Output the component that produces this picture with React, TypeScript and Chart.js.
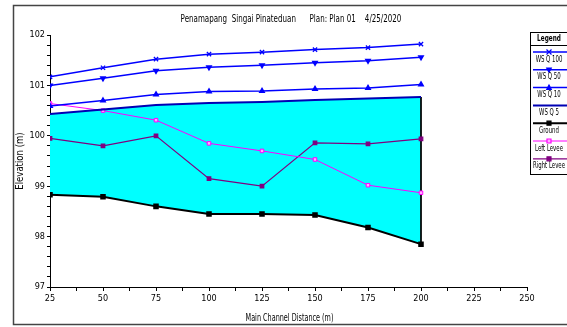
import React, { useEffect, useRef } from "react";
import { Chart, registerables } from "chart.js";

Chart.register(...registerables);

const distances = [25, 50, 75, 100, 125, 150, 175, 200];
const wsQ100 = [101.17, 101.35, 101.52, 101.62, 101.66, 101.71, 101.75, 101.82];
const wsQ50 = [101.0, 101.14, 101.29, 101.36, 101.4, 101.45, 101.49, 101.56];
const wsQ10 = [100.59, 100.7, 100.82, 100.88, 100.89, 100.93, 100.95, 101.02];
const wsQ5 = [100.43, 100.52, 100.61, 100.65, 100.67, 100.71, 100.74, 100.77];
const ground = [98.83, 98.79, 98.6, 98.45, 98.45, 98.43, 98.18, 97.85];
const leftLevee = [100.64, 100.5, 100.31, 99.85, 99.7, 99.53, 99.02, 98.87];
const rightLevee = [99.95, 99.8, 100.0, 99.15, 99.0, 99.86, 99.84, 99.94];

const seriesLabels = ["WS Q 100", "WS Q 50", "WS Q 10", "WS Q 5", "Ground", "Left Levee", "Right Levee"];
const titleText = "Penamapang  Singai Pinateduan      Plan: Plan 01    4/25/2020";
const xTitle = "Main Channel Distance (m)";
const yTitle = "Elevation (m)";

const FONT = "'Liberation Sans Narrow', 'DejaVu Sans Condensed', 'Liberation Sans', Arial, sans-serif";

const pts = (ys: number[]) => distances.map((x, i) => ({ x, y: ys[i] }));

function narrowText(ctx: CanvasRenderingContext2D, text: string, x: number, y: number, sx: number, rot = 0) {
  ctx.save();
  ctx.translate(x, y);
  if (rot) ctx.rotate(rot);
  ctx.scale(sx, 1);
  ctx.fillText(text, 0, 0);
  ctx.restore();
}

function drawMarker(ctx: CanvasRenderingContext2D, style: string, rot: number, x: number, y: number, r: number, stroke: string, fill: string) {
  ctx.save();
  ctx.translate(x, y);
  ctx.rotate((rot * Math.PI) / 180);
  ctx.strokeStyle = stroke;
  ctx.fillStyle = fill;
  ctx.lineWidth = 1.2;
  ctx.beginPath();
  if (style === "crossRot") {
    ctx.moveTo(-r, -r); ctx.lineTo(r, r);
    ctx.moveTo(r, -r); ctx.lineTo(-r, r);
    ctx.stroke();
  } else if (style === "triangle") {
    ctx.moveTo(0, -r); ctx.lineTo(r * 0.9, r * 0.7); ctx.lineTo(-r * 0.9, r * 0.7); ctx.closePath();
    ctx.fill(); ctx.stroke();
  } else if (style === "rect") {
    ctx.rect(-r * 0.8, -r * 0.8, r * 1.6, r * 1.6);
    ctx.fill(); ctx.stroke();
  }
  ctx.restore();
}

const decorPlugin = {
  id: "decor",
  afterDraw(chart: any) {
    const ctx: CanvasRenderingContext2D = chart.ctx;
    const area = chart.chartArea;
    ctx.save();
    // outer frame
    ctx.strokeStyle = "#444";
    ctx.lineWidth = 1.5;
    ctx.strokeRect(13.5, 5.5, 600, 319);
    // title
    ctx.fillStyle = "#000";
    ctx.textAlign = "center";
    ctx.textBaseline = "middle";
    ctx.font = `11px ${FONT}`;
    narrowText(ctx, titleText, 291, 19, 0.72);
    // axis titles
    ctx.font = `10px ${FONT}`;
    narrowText(ctx, xTitle, (area.left + area.right) / 2 + 1, 318, 0.72);
    narrowText(ctx, yTitle, 20, (area.top + area.bottom) / 2, 0.95, -Math.PI / 2);
    // legend
    ctx.strokeStyle = "#000";
    ctx.lineWidth = 1;
    ctx.strokeRect(530.5, 32.5, 50, 142);
    ctx.font = `bold 8px ${FONT}`;
    narrowText(ctx, "Legend", 549, 39, 0.8);
    ctx.beginPath();
    ctx.moveTo(530, 45.5);
    ctx.lineTo(567, 45.5);
    ctx.stroke();
    ctx.font = `8px ${FONT}`;
    const ds = chart.data.datasets;
    for (let i = 0; i < seriesLabels.length; i++) {
      const d = ds[i];
      const lineY = 52 + 17.8 * i;
      ctx.strokeStyle = d.borderColor;
      ctx.lineWidth = d.borderWidth;
      ctx.beginPath();
      ctx.moveTo(533, lineY);
      ctx.lineTo(567, lineY);
      ctx.stroke();
      if (d.pointRadius > 0) {
        drawMarker(ctx, d.pointStyle, d.pointRotation || 0, 549, lineY, 2.5, d.pointBorderColor || d.borderColor, d.pointBackgroundColor || d.borderColor);
      }
      ctx.fillStyle = "#000";
      narrowText(ctx, d.label, 549, lineY + 7.5, 0.75);
    }
    ctx.restore();
  },
};

export default function App() {
  const ref = useRef<HTMLCanvasElement | null>(null);
  useEffect(() => {
    if (!ref.current) return;
    const blue = "#0000ff";
    const chart = new Chart(ref.current, {
      type: "line",
      data: {
        datasets: [
          { label: seriesLabels[0], data: pts(wsQ100), borderColor: blue, backgroundColor: blue, borderWidth: 1.5, pointStyle: "crossRot", pointRadius: 3, pointBorderWidth: 1.3, pointBorderColor: blue, pointBackgroundColor: blue, fill: false },
          { label: seriesLabels[1], data: pts(wsQ50), borderColor: blue, backgroundColor: blue, borderWidth: 1.5, pointStyle: "triangle", pointRotation: 180, pointRadius: 2.5, pointBorderColor: blue, pointBackgroundColor: blue, fill: false },
          { label: seriesLabels[2], data: pts(wsQ10), borderColor: blue, backgroundColor: blue, borderWidth: 1.5, pointStyle: "triangle", pointRadius: 2.5, pointBorderColor: blue, pointBackgroundColor: blue, fill: false },
          { label: seriesLabels[3], data: pts(wsQ5), borderColor: "#0000b4", backgroundColor: "#00ffff", borderWidth: 2, pointRadius: 0, fill: "+1" },
          { label: seriesLabels[4], data: pts(ground), borderColor: "#000000", backgroundColor: "#000000", borderWidth: 2, pointStyle: "rect", pointRadius: 2.5, pointBorderColor: "#000", pointBackgroundColor: "#000", fill: false },
          { label: seriesLabels[5], data: pts(leftLevee), borderColor: "#ff00ff", backgroundColor: "#ff00ff", borderWidth: 1, pointStyle: "rect", pointRadius: 2.5, pointBorderWidth: 1, pointBorderColor: "#ff00ff", pointBackgroundColor: "#ffb0ff", fill: false },
          { label: seriesLabels[6], data: pts(rightLevee), borderColor: "#800080", backgroundColor: "#800080", borderWidth: 1.2, pointStyle: "rect", pointRadius: 2.5, pointBorderColor: "#800080", pointBackgroundColor: "#800080", fill: false },
          {
            label: "edge",
            data: [
              { x: distances[distances.length - 1], y: wsQ5[wsQ5.length - 1] },
              { x: distances[distances.length - 1], y: ground[ground.length - 1] },
            ],
            borderColor: "#000",
            borderWidth: 1,
            pointRadius: 0,
            fill: false,
          },
        ] as any,
      },
      options: {
        animation: false,
        responsive: false,
        maintainAspectRatio: false,
        layout: { padding: { left: 14, top: 35, right: 40, bottom: 0 } },
        plugins: {
          legend: { display: false },
          title: { display: false },
          tooltip: { enabled: false },
          filler: { drawTime: "beforeDatasetsDraw" },
        },
        scales: {
          x: {
            type: "linear",
            min: 25,
            max: 250,
            ticks: {
              stepSize: 12.5,
              autoSkip: false,
              maxRotation: 0,
              padding: 2,
              color: "#000",
              font: { family: FONT, size: 9 },
              callback: (v: any) => (Math.abs(v / 25 - Math.round(v / 25)) < 1e-6 ? String(v) : ""),
            },
            grid: { drawOnChartArea: false, tickLength: 4, color: "#000", tickColor: "#000" },
            border: { color: "#000", width: 1 },
            title: { display: false },
            afterFit: (s: any) => { s.height = 40; },
          },
          y: {
            min: 97,
            max: 102,
            ticks: {
              stepSize: 0.2,
              autoSkip: false,
              padding: 2,
              color: "#000",
              font: { family: FONT, size: 9 },
              callback: (v: any) => (Math.abs(v - Math.round(v)) < 1e-6 ? String(Math.round(v)) : ""),
            },
            grid: { drawOnChartArea: false, tickLength: 3, color: "#000", tickColor: "#000" },
            border: { color: "#000", width: 1 },
            title: { display: false },
            afterFit: (s: any) => { s.width = 36; },
          },
        },
      } as any,
      plugins: [decorPlugin],
    });
    return () => chart.destroy();
  }, []);
  return (
    <div style={{ position: "fixed", left: 0, top: 0, width: 567, height: 327, background: "#fff" }}>
      <canvas ref={ref} width={567} height={327} style={{ width: 567, height: 327, display: "block" }} />
    </div>
  );
}
